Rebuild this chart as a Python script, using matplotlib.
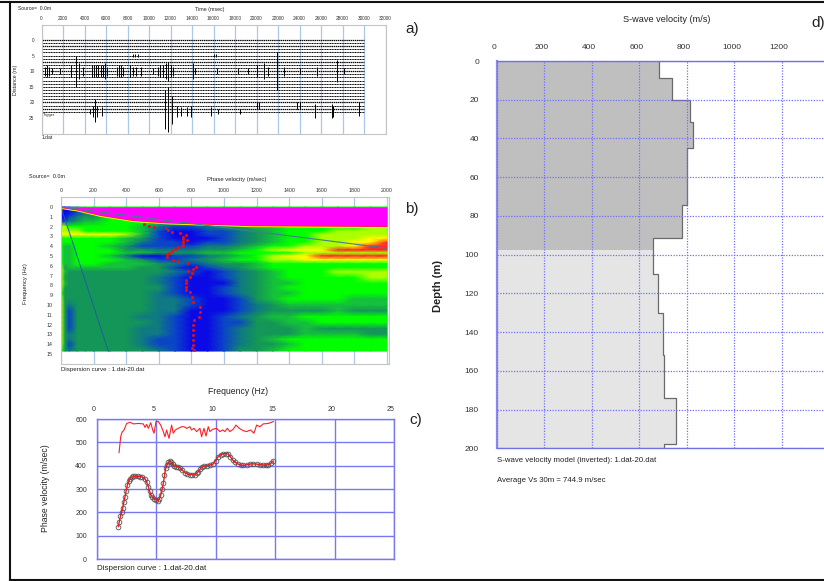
# -*- coding: utf-8 -*-
import matplotlib
matplotlib.use("Agg")
import matplotlib.pyplot as plt
import numpy as np
from matplotlib.colors import LinearSegmentedColormap
from matplotlib.lines import Line2D
from matplotlib.transforms import ScaledTranslation

plt.rcParams['font.family'] = ['Liberation Sans', 'DejaVu Sans']

W, H = 824, 581

# a) traces
trace_dist = list(range(0, 24))
burst10_t = [300, 500, 700, 1000, 1700, 2700, 3200, 3500, 3900, 4700, 4900, 5100, 5300, 5500, 5700, 5900, 6100,
             7000, 7200, 7400, 7600, 8200, 8500, 8800, 9300, 10400, 10800, 11000, 11300, 11600, 11800, 12000,
             12200, 14100, 14300, 16300, 18300, 19200, 20000, 20700, 21100, 21900, 22600, 24000, 25600, 27500, 28100]
burst10_a = [1.5, 2, 1.5, 1, 1, 2, 5, 2.5, 1.5, 2, 2, 2, 2, 2, 2, 2.5, 1.5,
             1.5, 2, 2, 1.5, 2, 1.5, 1.5, 1.5, 1, 1.5, 2, 2, 2.5, 3, 2, 1.5, 2.5, 1, 1, 1, 1, 2, 2.5, 1.5, 6, 1.5, 1, 1.5, 3.5, 1]
burst23_t = [4500, 4800, 5000, 5200, 5600, 11500, 11800, 12100, 12600, 13000, 13500, 13900, 15800, 16400, 18500,
             25400, 27000, 27100, 29500]
burst23_a = [1, 2, 4, 2, 1.5, 7, 8, 5, 2, 1.5, 1.5, 2, 1.5, 1, 1, 2.5, 2.5, 2, 1.5]
burst5_t = [8500, 8700, 9000, 16000, 16200]
burst21_t = [20000, 20200, 23800, 24000, 29500]
a_x_ticks = list(range(0, 32001, 2000))
a_y_ticks = [0, 5, 10, 15, 20, 25]

# b) dispersion image, 0 = blue ... 9 = magenta
v_cols = [0, 25, 50, 100, 150, 200, 300, 400, 500, 600, 700, 800, 900, 1000, 1100, 1200, 1300, 1400, 1500, 1600, 1700, 1800, 1900, 2000]
f_rows = [0, 0.5, 1, 1.5, 2, 2.5, 2.8, 3.2, 3.6, 4.0, 4.4, 4.7, 5.0, 5.4, 5.8, 6.2, 6.6, 7.2, 7.8, 8.2, 8.8, 9.4, 10, 10.6, 11.2, 11.8, 12.4, 13, 13.5, 14, 14.7]
heat = [
    [0, 0, 1, 3, 5, 5, 5, 5, 5, 5, 5, 5, 5, 5, 5, 5, 5, 5, 5, 5, 5, 5, 5, 5],
    [0, 0, 0, 1, 2, 3, 5, 5, 5, 5, 5, 5, 5, 5, 5, 5, 5, 5, 5, 5, 5, 5, 5, 5],
    [0, 0, 1, 2, 3, 3, 5, 5, 5, 5, 5, 5, 5, 5, 5, 5, 5, 5, 5, 5, 5, 5, 5, 5],
    [1, 1, 2, 3, 4, 4, 5, 5, 5, 4, 4, 5, 5, 5, 5, 5, 5, 5, 5, 5, 5, 5, 5, 5],
    [6, 6, 5, 5, 5, 5, 5, 5, 4, 2, 1, 1, 2, 3, 3, 4, 4, 5, 5, 5, 5, 5, 6, 6],
    [6, 6, 6, 6, 5, 5, 5, 5, 4, 1, 0, 0, 1, 1, 2, 3, 4, 5, 5, 5, 6, 6, 6, 6],
    [7, 7, 7, 7, 7, 7, 7, 6, 4, 1, 0, 0, 1, 1, 2, 3, 4, 5, 5, 6, 6, 6, 6, 6],
    [5, 5, 5, 5, 5, 5, 5, 4, 3, 1, 0, 0, 0, 1, 2, 3, 4, 5, 5, 6, 6, 6, 7, 7],
    [5, 5, 5, 5, 5, 5, 5, 4, 2, 1, 1, 0, 1, 1, 2, 3, 4, 5, 5, 6, 6, 7, 7, 8],
    [5, 4, 4, 5, 5, 5, 4, 3, 1, 1, 1, 1, 2, 2, 3, 4, 5, 5, 6, 6, 6, 7, 8, 8],
    [5, 4, 4, 5, 5, 5, 5, 3, 3, 2, 2, 2, 3, 3, 4, 5, 6, 7, 7, 7, 8, 8, 8, 8],
    [5, 4, 4, 5, 5, 5, 5, 4, 4, 3, 3, 3, 4, 4, 5, 5, 5, 5, 6, 6, 6, 6, 6, 6],
    [5, 4, 4, 5, 5, 5, 4, 2, 0, 0, 1, 1, 2, 3, 4, 5, 6, 7, 7, 8, 8, 8, 8, 8],
    [5, 4, 4, 5, 5, 5, 5, 4, 3, 1, 1, 2, 3, 4, 5, 5, 6, 6, 7, 7, 7, 7, 7, 7],
    [5, 4, 4, 5, 5, 5, 4, 4, 4, 3, 2, 1, 2, 3, 3, 4, 5, 5, 5, 5, 5, 5, 5, 5],
    [6, 3, 4, 4, 4, 4, 4, 4, 3, 3, 1, 0, 1, 2, 3, 4, 5, 5, 5, 5, 5, 5, 5, 5],
    [6, 4, 3, 3, 3, 3, 3, 3, 3, 3, 2, 1, 0, 1, 2, 3, 4, 5, 5, 5, 6, 6, 6, 6],
    [6, 3, 3, 3, 3, 3, 3, 3, 3, 2, 1, 0, 0, 1, 2, 3, 4, 5, 5, 5, 5, 5, 6, 6],
    [6, 4, 3, 3, 3, 3, 3, 3, 3, 2, 1, 0, 0, 0, 2, 3, 4, 4, 5, 5, 5, 5, 5, 5],
    [6, 3, 3, 3, 3, 3, 3, 3, 3, 3, 1, 0, 0, 1, 2, 3, 4, 5, 5, 5, 5, 5, 5, 5],
    [5, 3, 3, 3, 3, 3, 3, 3, 3, 2, 1, 0, 0, 1, 2, 3, 4, 4, 5, 5, 5, 5, 5, 5],
    [6, 3, 3, 3, 3, 3, 3, 3, 3, 2, 2, 1, 0, 0, 1, 3, 4, 5, 5, 5, 5, 4, 4, 4],
    [6, 3, 2, 3, 3, 3, 3, 3, 3, 2, 2, 1, 0, 0, 1, 2, 3, 4, 4, 4, 4, 4, 4, 4],
    [6, 3, 1, 3, 3, 3, 3, 3, 3, 2, 2, 0, 0, 0, 1, 2, 3, 3, 3, 3, 4, 3, 3, 3],
    [6, 3, 1, 3, 3, 3, 3, 3, 2, 2, 1, 0, 0, 1, 2, 3, 4, 4, 5, 5, 5, 5, 5, 5],
    [6, 3, 1, 3, 3, 3, 3, 3, 3, 2, 1, 0, 0, 1, 1, 3, 3, 4, 4, 5, 5, 5, 5, 5],
    [6, 3, 1, 3, 3, 3, 3, 3, 2, 2, 1, 0, 0, 1, 2, 3, 3, 3, 4, 3, 3, 3, 3, 3],
    [6, 3, 2, 3, 3, 3, 3, 3, 2, 2, 1, 0, 0, 1, 2, 3, 3, 3, 4, 4, 4, 4, 3, 3],
    [6, 3, 2, 3, 3, 3, 3, 3, 2, 1, 1, 0, 0, 1, 2, 3, 4, 5, 5, 5, 5, 5, 5, 5],
    [6, 3, 1, 3, 3, 3, 3, 3, 2, 1, 1, 0, 0, 1, 2, 3, 3, 4, 5, 5, 5, 5, 5, 5],
    [5, 3, 2, 3, 3, 3, 3, 3, 3, 2, 1, 0, 0, 1, 3, 3, 4, 5, 5, 5, 5, 5, 5, 5],
]
edge_v = [0, 100, 240, 444, 650, 1160, 2000]
edge_f = [0, 0.25, 0.8, 1.33, 1.56, 1.84, 1.93]
pick_v = [510, 540, 571, 643, 659, 682, 731, 766, 747, 751, 774, 751, 751, 741, 720, 700, 684, 663, 653, 649, 690, 720,
          782, 827, 809, 782, 802, 792, 766, 768, 764, 768, 792, 802, 809, 850, 854, 845, 817, 807, 807, 809, 809, 809, 802, 819]
pick_f = [1.77, 1.9, 2.04, 2.18, 2.38, 2.52, 2.65, 2.89, 3.02, 3.27, 3.37, 3.6, 3.88, 3.98, 4.12, 4.29, 4.49, 4.66, 4.83, 5.07, 5.41, 5.54,
          5.75, 6.09, 6.33, 6.53, 6.77, 7.11, 7.45, 7.79, 8.13, 8.47, 8.71, 9.15, 9.66, 10.17, 10.68, 11.19, 11.53, 12.04, 12.55, 13.06, 13.57, 14.08, 14.35, 14.6]
b_x_ticks = list(range(0, 2001, 200))
b_y_ticks = list(range(0, 16))

# c) dispersion curve
disp_f = [1.82, 1.9, 2.0, 2.1, 2.18, 2.28, 2.38, 2.48, 2.58, 2.7, 2.8, 2.95, 3.08, 3.25, 3.45, 3.64, 3.85, 4.06, 4.2, 4.34,
          4.44, 4.54, 4.68, 4.82, 4.98, 5.13, 5.26, 5.38, 5.5, 5.6, 5.7, 5.8, 5.9, 6.02, 6.14, 6.25, 6.38, 6.5, 6.7, 6.85,
          7.0, 7.2, 7.42, 7.62, 7.84, 8.05, 8.26, 8.4, 8.54, 8.68, 8.82, 9.03, 9.24, 9.5, 9.8, 10.0, 10.22, 10.42, 10.64, 10.85,
          11.06, 11.25, 11.43, 11.65, 11.9, 12.1, 12.32, 12.6, 12.88, 13.15, 13.45, 13.72, 14.0, 14.2, 14.43, 14.65, 14.85]
disp_v = [139, 160, 184, 200, 217, 243, 267, 293, 317, 333, 344, 350, 354, 355, 354, 353, 351, 344, 330, 310,
          292, 276, 266, 259, 253, 250, 258, 274, 298, 324, 358, 389, 405, 414, 418, 417, 408, 399, 395, 394,
          391, 380, 370, 365, 362, 361, 361, 367, 374, 384, 393, 398, 400, 403, 407, 422, 439, 447, 451, 452,
          450, 438, 424, 414, 407, 403, 401, 404, 407, 408, 407, 404, 403, 402, 404, 411, 420]
upper_f = [1.88, 2.02, 2.13, 2.3, 2.52, 2.8, 3.08, 3.5, 3.92, 4.06, 4.2, 4.34, 4.54, 4.71, 4.82, 4.99, 5.18, 5.38, 5.6, 5.74,
           5.88, 6.08, 6.3, 6.44, 6.61, 6.86, 7.14, 7.34, 7.56, 7.84, 7.98, 8.18, 8.4, 8.68, 8.82, 9.02, 9.19, 9.38, 9.52, 9.75,
           10.08, 10.36, 10.59, 10.78, 10.98, 11.2, 11.48, 11.71, 11.99, 12.32, 12.6, 12.94, 13.22, 13.45, 13.73, 14.0, 14.43, 14.85]
upper_v = [456, 525, 543, 553, 581, 586, 579, 581, 579, 564, 577, 560, 584, 553, 539, 589, 589, 574, 546, 524,
           553, 517, 574, 539, 553, 560, 567, 567, 560, 567, 553, 560, 546, 560, 524, 560, 527, 567, 546, 556,
           560, 546, 553, 546, 560, 546, 556, 574, 560, 550, 546, 553, 539, 574, 567, 579, 581, 589]

# d) velocity model
layer_top = [0, 9, 20, 31.5, 44.8, 74.5, 91.5, 97.7, 110, 130, 152, 174, 198]
layer_vs = [683, 735, 813, 827, 799, 780, 655, 655, 676, 697, 705, 755, 705]
d_x_ticks = [0, 200, 400, 600, 800, 1000, 1200]
d_y_ticks = list(range(0, 201, 20))

fig = plt.figure(figsize=(W / 100, H / 100), dpi=100)


def px_axes(x0, y0, x1, y1):
    return fig.add_axes([x0 / W, 1 - y1 / H, (x1 - x0) / W, (y1 - y0) / H])


def px_text(x, y, s, size, **kw):
    kw.setdefault("ha", "left")
    kw.setdefault("va", "center")
    kw.setdefault("color", "#222222")
    fig.text(x / W, 1 - y / H, s, fontsize=size, **kw)


def top_ticks(ax, size, pad):
    ax.xaxis.tick_top()
    ax.tick_params(axis="both", length=0, labelsize=size, pad=pad, colors="#333333")


def shift_xlabels(ax, px):
    # the x labels sit a little left of their grid lines in the original
    for lbl in ax.get_xticklabels():
        lbl.set_transform(lbl.get_transform() + ScaledTranslation(px / 100, 0, fig.dpi_scale_trans))


# ---- a)
axa = px_axes(41.5, 25, 385.5, 134)
axa.set_xlim(0, 32000)
axa.set_ylim(30.1, -4.8)
axa.set_xticks(a_x_ticks)
axa.set_yticks(a_y_ticks)
top_ticks(axa, 3.4, 3)
axa.tick_params(axis="y", pad=5)
axa.grid(axis="x", color="#a8c8ec", linewidth=0.9)
axa.set_axisbelow(True)
for d in trace_dist:
    axa.hlines(d, 0, 30000, color="k", linewidth=0.9 if d in (0, 2, 7, 10, 20, 22) else 0.7,
               linestyle=(0, (1.2, 0.5)))
axa.vlines(burst10_t, 10 - np.array(burst10_a), 10 + np.array(burst10_a), color="k", linewidth=0.7)
axa.vlines(burst23_t, 23 - np.array(burst23_a), 23 + np.array(burst23_a) * 0.8, color="k", linewidth=0.7)
axa.vlines(burst5_t, 4.4, 5.6, color="k", linewidth=0.7)
axa.vlines(burst21_t, 20, 22, color="k", linewidth=0.7)
for s in axa.spines.values():
    s.set_color("#c4c4c4")
    s.set_linewidth(0.8)
px_text(18, 8, "Source=  0.0m", 3.6)
px_text(210, 9, "Time (msec)", 3.8, ha="center")
px_text(16, 80, "Distance (m)", 3.8, rotation=90, ha="center")
px_text(41.5, 138, "1.dat", 3.6)
px_text(43, 115, "Trigger", 2.8)
px_text(405, 29, "a)", 11)

# ---- b)
axb = px_axes(60.7, 197, 389, 364)
axb.set_xlim(-2, 2013)
axb.set_ylim(16.02, -1.02)
axb.set_xticks(b_x_ticks)
axb.set_yticks(b_y_ticks)
top_ticks(axb, 3.8, 3)
axb.tick_params(axis="y", pad=6)
axb.grid(axis="x", color="#a8c8ec", linewidth=0.9)
axb.set_axisbelow(True)
heat_cmap = LinearSegmentedColormap.from_list("disp", [
    "#0a0ae6", "#0a46c8", "#0f7a82", "#149658", "#14c03c", "#00ff00", "#aaff00", "#ffff00", "#ff2828", "#ff00ff"])
axb.pcolormesh(v_cols, f_rows, np.array(heat), cmap=heat_cmap, vmin=0, vmax=9, shading="gouraud")
axb.fill_between(edge_v, np.array(edge_f) + 0.16, 0, color="#ffff00", linewidth=0)
axb.fill_between(edge_v, np.array(edge_f) + 0.07, 0, color="#ff2020", linewidth=0)
axb.fill_between(edge_v, edge_f, 0, color="#ff00ff", linewidth=0)
axb.plot([0, 290], [0, 14.7], color="#1f5f9f", linewidth=0.7)
axb.plot([0, 2000], [0, 4.2], color="#3f7f8f", linewidth=0.8)
axb.plot(pick_v, pick_f, linestyle="", marker="s", markersize=1.0, color="#e81010")
for s in axb.spines.values():
    s.set_color("#c4c4c4")
    s.set_linewidth(0.8)
px_text(29, 177, "Source=  0.0m", 4.0)
px_text(237, 179, "Phase velocity (m/sec)", 4.2, ha="center")
px_text(26, 284, "Frequency (Hz)", 4.2, rotation=90, ha="center")
px_text(60.7, 369, "Dispersion curve : 1.dat-20.dat", 4.4)
px_text(405, 209, "b)", 11)

# ---- c)
axc = px_axes(96.7, 419, 394, 559)
axc.set_xlim(0, 25)
axc.set_ylim(0, 600)
axc.set_xticks(range(0, 26, 5))
axc.set_yticks(range(0, 601, 100))
top_ticks(axc, 5, 4)
axc.tick_params(axis="y", pad=7)
axc.grid(color="#7878f0", linewidth=1.0)
axc.set_axisbelow(True)
shift_xlabels(axc, -3)
axc.plot(upper_f, upper_v, color="#ff2020", linewidth=0.8)
axc.plot(disp_f, disp_v, linestyle="", marker="o", markersize=3.4, markerfacecolor="none",
         markeredgecolor="#555555", markeredgewidth=0.6)
axc.plot(disp_f, disp_v, color="#f01818", linewidth=1.0)
for s in axc.spines.values():
    s.set_color("#7878f0")
    s.set_linewidth(1.0)
px_text(238, 392, "Frequency (Hz)", 6.2, ha="center")
px_text(45, 488, "Phase velocity (m/sec)", 6.2, rotation=90, ha="center")
px_text(97, 568, "Dispersion curve : 1.dat-20.dat", 5.8)
px_text(409, 420, "c)", 11)

# ---- d)
axd = px_axes(497, 61, 824, 448.3)
axd.set_xlim(0, 1377)
axd.set_ylim(200, 0)
axd.set_xticks(d_x_ticks)
axd.set_yticks(d_y_ticks)
top_ticks(axd, 6, 7)
axd.tick_params(axis="y", pad=13)
shift_xlabels(axd, -3)
step_v = np.repeat(layer_vs, 2)
step_d = np.ravel(np.column_stack([layer_top, layer_top[1:] + [200]]))
axd.fill_betweenx(step_d, 0, step_v, color="#bfbfbf", linewidth=0, where=step_d <= 97.7)
axd.fill_betweenx(step_d, 0, step_v, color="#e5e5e5", linewidth=0, where=step_d >= 97.7)
axd.plot(step_v, step_d, color="#6a6a6a", linewidth=0.9)
axd.grid(color="#7070ff", linewidth=0.9, linestyle=(0, (1, 1.2)))
axd.set_axisbelow(False)
axd.spines["right"].set_visible(False)
for name in ("top", "bottom"):
    axd.spines[name].set_color("#7070e8")
    axd.spines[name].set_linewidth(1.0)
axd.spines["left"].set_color("#8c8ce8")
axd.spines["left"].set_linewidth(1.6)
px_text(667, 20, "S-wave velocity (m/s)", 6.6, ha="center")
px_text(438, 286, "Depth (m)", 8, rotation=90, ha="center", fontweight="bold")
px_text(497, 460, "S-wave velocity model (inverted): 1.dat-20.dat", 5.6)
px_text(497, 480, "Average Vs 30m = 744.9 m/sec", 5.6)
px_text(811, 23, "d)", 11)

# frame round the whole figure
frame = [((0, 824), (1.5, 1.5)), ((10, 10), (1.5, 580)), ((10, 824), (579.5, 579.5))]
for xs, ys in frame:
    fig.add_artist(Line2D([x / W for x in xs], [1 - y / H for y in ys], color="#111111", linewidth=1.5))

fig.savefig("out.png", dpi=100)
